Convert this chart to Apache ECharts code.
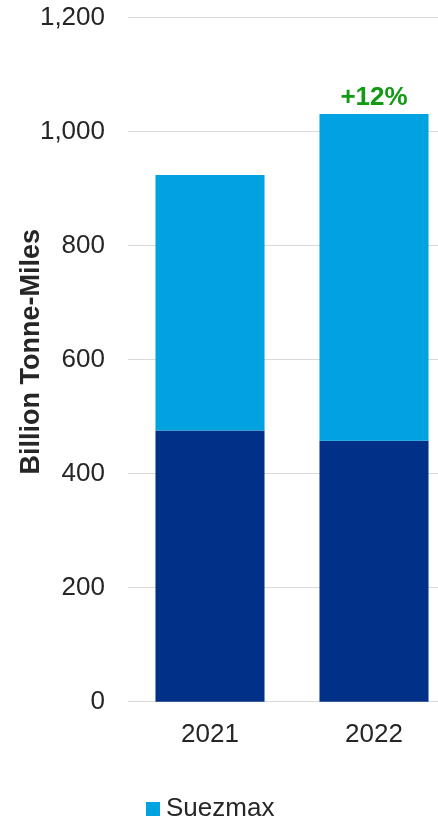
<!DOCTYPE html>
<html>
<head>
<meta charset="utf-8">
<script src="https://cdn.jsdelivr.net/npm/echarts@6/dist/echarts.min.js"></script>
<style>
  html, body { margin: 0; padding: 0; background: #fff; }
  #chart { width: 438px; height: 821px; }
</style>
</head>
<body>
<div id="chart"></div>
<script>
// Crude tanker demand, billion tonne-miles
const years = ['2021', '2022'];
const baseValues = [476, 458];      // lower (dark) segment
const suezmaxValues = [448, 573];   // upper segment, Suezmax
const yTicks = { min: 0, max: 1200, interval: 200 };

const totals = baseValues.map((v, i) => v + suezmaxValues[i]);
const growthPct = Math.round((totals[1] / totals[0] - 1) * 100);

const FONT = "'Liberation Sans', Arial, sans-serif";
const TEXT = '#262626';

const chart = echarts.init(document.getElementById('chart'));
chart.setOption({
  animation: false,
  textStyle: { fontFamily: FONT },
  grid: {
    left: 128, right: -18, top: 17.7, bottom: 119.3,
    containLabel: false, outerBoundsMode: 'none'
  },
  legend: {
    data: ['Suezmax'],
    left: 146,
    top: 796,
    padding: 0,
    icon: 'rect',
    itemWidth: 14,
    itemHeight: 14,
    itemGap: 10,
    textStyle: { fontSize: 26, color: TEXT, fontFamily: FONT, padding: [0, 0, 0, 1] }
  },
  xAxis: {
    type: 'category',
    data: years,
    axisTick: { show: false },
    axisLine: { lineStyle: { color: '#D9D9D9', width: 1 } },
    axisLabel: { color: TEXT, fontSize: 26, margin: 20, fontFamily: FONT }
  },
  yAxis: {
    type: 'value',
    min: yTicks.min,
    max: yTicks.max,
    interval: yTicks.interval,
    name: 'Billion Tonne-Miles',
    nameLocation: 'middle',
    nameGap: 83,
    nameMoveOverlap: false,
    nameTextStyle: {
      fontSize: 27, fontWeight: 'bold', color: TEXT, fontFamily: FONT,
      padding: [0, 0, 0, 16]
    },
    axisLine: { show: false },
    axisTick: { show: false },
    axisLabel: {
      color: TEXT, fontSize: 26, margin: 23, fontFamily: FONT,
      formatter: v => v.toLocaleString('en-US')
    },
    splitLine: { lineStyle: { color: '#D9D9D9', width: 1 } }
  },
  series: [
    {
      name: 'Other',
      type: 'bar',
      stack: 'total',
      barWidth: '66.5%',
      itemStyle: { color: '#003087' },
      data: baseValues
    },
    {
      name: 'Suezmax',
      type: 'bar',
      stack: 'total',
      barWidth: '66.5%',
      itemStyle: { color: '#00A3E0' },
      data: suezmaxValues.map((v, i) => i === 1 ? {
        value: v,
        label: {
          show: true,
          position: 'top',
          distance: 3,
          formatter: '+' + growthPct + '%',
          color: '#139A13',
          fontSize: 26,
          fontWeight: 'bold',
          fontFamily: FONT
        }
      } : v)
    }
  ]
});
</script>
</body>
</html>
